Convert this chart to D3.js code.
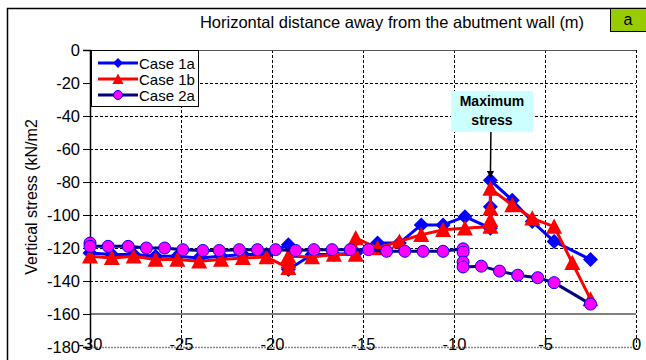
<!DOCTYPE html>
<html><head><meta charset="utf-8">
<script src="https://cdn.jsdelivr.net/npm/d3@7"></script>
<style>body{margin:0;background:#fff}svg{display:block;font-family:"Liberation Sans",Arial,sans-serif}</style>
</head><body><svg id="c" width="646" height="360"></svg>
<script>
const xTicks = [-30, -25, -20, -15, -10, -5, 0];
const yTicks = [0, -20, -40, -60, -80, -100, -120, -140, -160, -180];
const seriesNames = ["Case 1a", "Case 1b", "Case 2a"];
const case1aX = [-30, -28.8, -27.6, -26.4, -25.2, -24.0, -22.8, -21.6, -20.3, -19.1, -19.1, -17.8, -16.6, -15.4, -14.2, -13.0, -11.8, -10.6, -9.4, -8.0, -8.0, -8.0, -6.8, -5.7, -4.5, -2.5];
const case1aY = [-123, -124, -124, -125, -125, -126, -125, -124, -124, -118, -133, -124, -124, -123, -117, -117, -106, -106, -101, -108, -95, -79, -91, -104, -116, -127];
const case1bX = [-30, -28.8, -27.6, -26.4, -25.2, -24.0, -22.8, -21.6, -20.3, -19.1, -19.1, -19.1, -17.8, -16.6, -15.4, -15.4, -14.2, -13.0, -11.8, -10.6, -9.4, -8.0, -8.0, -8.0, -8.0, -6.8, -5.7, -4.5, -3.5, -2.5];
const case1bY = [-125, -126, -125, -127, -127, -128, -127, -126, -125.5, -132, -128, -125, -125.5, -124, -124, -114, -120, -116, -112, -109, -108, -107, -103, -96, -84, -94, -102, -107, -129, -151];
const case2aX = [-30, -30, -29.0, -27.9, -26.9, -25.9, -24.9, -23.8, -22.9, -21.8, -20.8, -19.8, -18.7, -17.7, -16.7, -15.7, -14.7, -13.7, -12.7, -11.7, -10.6, -9.5, -9.5, -9.5, -9.5, -8.5, -7.5, -6.5, -5.4, -4.5, -2.5];
const case2aY = [-117, -119, -119, -119, -120, -120, -121, -121.5, -121.5, -121, -121, -121, -121.5, -121, -121, -121, -121, -122, -122, -122, -122, -120.5, -122.5, -128.5, -131.5, -131, -134, -136.5, -138, -141, -154];
const annotationLines = ["Maximum", "stress"];
const annotationPoint = [-8.0, -79];

const svg = d3.select("#c");
const x = d3.scaleLinear().domain([-30, 0]).range([90, 636]);
const y = d3.scaleLinear().domain([-180, 0]).range([347, 50]);

// outer border
svg.append("rect").attr("x", 7.5).attr("y", 8.5).attr("width", 700).attr("height", 400)
  .attr("fill", "none").attr("stroke", "#000").attr("stroke-width", 1.5);

// title
svg.append("text").attr("x", 392).attr("y", 28).attr("text-anchor", "middle")
  .attr("font-size", 16.5).text("Horizontal distance away from the abutment wall (m)");
// label a
svg.append("rect").attr("x", 610.5).attr("y", 8.5).attr("width", 40).attr("height", 23)
  .attr("fill", "#99cc00").attr("stroke", "#000").attr("stroke-width", 1);
svg.append("text").attr("x", 628).attr("y", 25).attr("text-anchor", "middle")
  .attr("font-size", 16).text("a");

// gridlines
const g = svg.append("g");
g.selectAll(".hg").data(yTicks.filter(v => v < 0 && v > -160)).enter().append("line")
  .attr("x1", x(-30)).attr("x2", x(0)).attr("y1", d => y(d) + 0.5).attr("y2", d => y(d) + 0.5)
  .attr("stroke", "#000").attr("stroke-dasharray", "3,2").attr("stroke-width", 1);
g.selectAll(".vg").data(xTicks.filter(v => v > -30)).enter().append("line")
  .attr("x1", d => x(d) + 0.5).attr("x2", d => x(d) + 0.5).attr("y1", y(0)).attr("y2", y(-180))
  .attr("stroke", "#000").attr("stroke-dasharray", "3,2").attr("stroke-width", 1);
// top border & bottom dashed border
g.append("line").attr("x1", x(-30)).attr("x2", x(0)).attr("y1", y(0) + 0.5).attr("y2", y(0) + 0.5)
  .attr("stroke", "#555").attr("stroke-width", 1);
g.append("line").attr("x1", x(-30)).attr("x2", x(0)).attr("y1", y(-180) + 0.5).attr("y2", y(-180) + 0.5)
  .attr("stroke", "#888").attr("stroke-dasharray", "2,1").attr("stroke-width", 1.5);
// x axis line at -160
g.append("line").attr("x1", x(-30)).attr("x2", x(0)).attr("y1", y(-160)).attr("y2", y(-160))
  .attr("stroke", "#808080").attr("stroke-width", 2);

// y axis
const yAxis = d3.axisLeft(y).tickValues(yTicks).tickSize(7).tickPadding(3).tickFormat(d3.format("d"));
const ya = svg.append("g").attr("transform", `translate(${x(-30)},0)`).call(yAxis);
ya.select(".domain").attr("stroke", "#000").attr("stroke-width", 1.5);
ya.selectAll(".tick line").attr("stroke", "#000");
ya.selectAll("text").attr("font-size", 16.5).attr("font-family", "Liberation Sans, Arial, sans-serif").attr("fill", "#000")
  .text(d => d === 0 ? "0" : "-" + Math.abs(d));

// x tick labels (placed low)
const xa = d3.axisBottom(x).tickValues(xTicks).tickSize(0).tickPadding(0).tickFormat(d => d === 0 ? "0" : "-" + Math.abs(d));
const xg = svg.append("g").attr("transform", `translate(0,${y(-160)})`).call(xa);
xg.select(".domain").remove();
xg.selectAll("text").attr("font-size", 16.5).attr("font-family", "Liberation Sans, Arial, sans-serif")
  .attr("fill", "#000").attr("dy", null).attr("y", 36);

// y title
svg.append("text").attr("transform", "translate(37,197) rotate(-90)").attr("text-anchor", "middle")
  .attr("font-size", 16).text("Vertical stress (kN/m2");

// series
const mk = (xs, ys) => xs.map((v, i) => [v, ys[i]]);
const s1a = mk(case1aX, case1aY), s1b = mk(case1bX, case1bY), s2a = mk(case2aX, case2aY);
const line = d3.line().x(d => x(d[0])).y(d => y(d[1]));
const diamond = s => `M0,${-s}L${s},0L0,${s}L${-s},0Z`;
const tri = s => `M0,${-s}L${s},${s * 0.9}L${-s},${s * 0.9}Z`;

function drawSeries(data, color, width, shapeFn) {
  const gg = svg.append("g");
  gg.append("path").attr("d", line(data)).attr("fill", "none").attr("stroke", color).attr("stroke-width", width)
    .attr("stroke-linejoin", "round");
  shapeFn(gg.selectAll("m").data(data).enter());
}
drawSeries(s1a, "#0000ff", 3, sel => sel.append("path").attr("d", diamond(7.5))
  .attr("transform", d => `translate(${x(d[0])},${y(d[1])})`).attr("fill", "#0000ff"));
drawSeries(s1b, "#ff0000", 3, sel => sel.append("path").attr("d", tri(8))
  .attr("transform", d => `translate(${x(d[0])},${y(d[1])})`).attr("fill", "#ff0000"));
drawSeries(s2a, "#000080", 3, sel => sel.append("circle").attr("r", 6)
  .attr("cx", d => x(d[0])).attr("cy", d => y(d[1])).attr("fill", "#ff00ff").attr("stroke", "#0000ff").attr("stroke-width", 1));

// legend
const lg = svg.append("g");
lg.append("rect").attr("x", 91.5).attr("y", 50.5).attr("width", 107).attr("height", 56)
  .attr("fill", "#fff").attr("stroke", "#000").attr("stroke-width", 1);
const legColors = ["#0000ff", "#ff0000", "#000080"];
seriesNames.forEach((n, i) => {
  const cy = 63 + i * 16;
  lg.append("line").attr("x1", 98).attr("x2", 138).attr("y1", cy).attr("y2", cy)
    .attr("stroke", legColors[i]).attr("stroke-width", 3);
  if (i === 0) lg.append("path").attr("d", diamond(5)).attr("transform", `translate(118,${cy})`).attr("fill", "#0000ff");
  if (i === 1) lg.append("path").attr("d", tri(5.5)).attr("transform", `translate(118,${cy})`).attr("fill", "#ff0000");
  if (i === 2) lg.append("circle").attr("cx", 118).attr("cy", cy).attr("r", 4.5).attr("fill", "#ff00ff").attr("stroke", "#0000ff");
  lg.append("text").attr("x", 139).attr("y", cy + 5.5).attr("font-size", 15).text(n);
});

// annotation
const ag = svg.append("g");
ag.append("defs").append("marker").attr("id", "ah").attr("viewBox", "0 0 10 10").attr("refX", 9).attr("refY", 5)
  .attr("markerWidth", 5).attr("markerHeight", 5).attr("orient", "auto")
  .append("path").attr("d", "M0,0L10,5L0,10Z").attr("fill", "#000");
ag.append("line").attr("x1", x(annotationPoint[0]) + 0.5).attr("y1", 132).attr("x2", x(annotationPoint[0]))
  .attr("y2", y(annotationPoint[1]) - 3).attr("stroke", "#000").attr("stroke-width", 1.5).attr("marker-end", "url(#ah)");
ag.append("rect").attr("x", 451).attr("y", 91).attr("width", 82).attr("height", 41).attr("fill", "#ccffff");
annotationLines.forEach((t, i) => ag.append("text").attr("x", 492).attr("y", 106 + i * 19)
  .attr("text-anchor", "middle").attr("font-size", 14).attr("font-weight", "bold").text(t));
</script></body></html>
